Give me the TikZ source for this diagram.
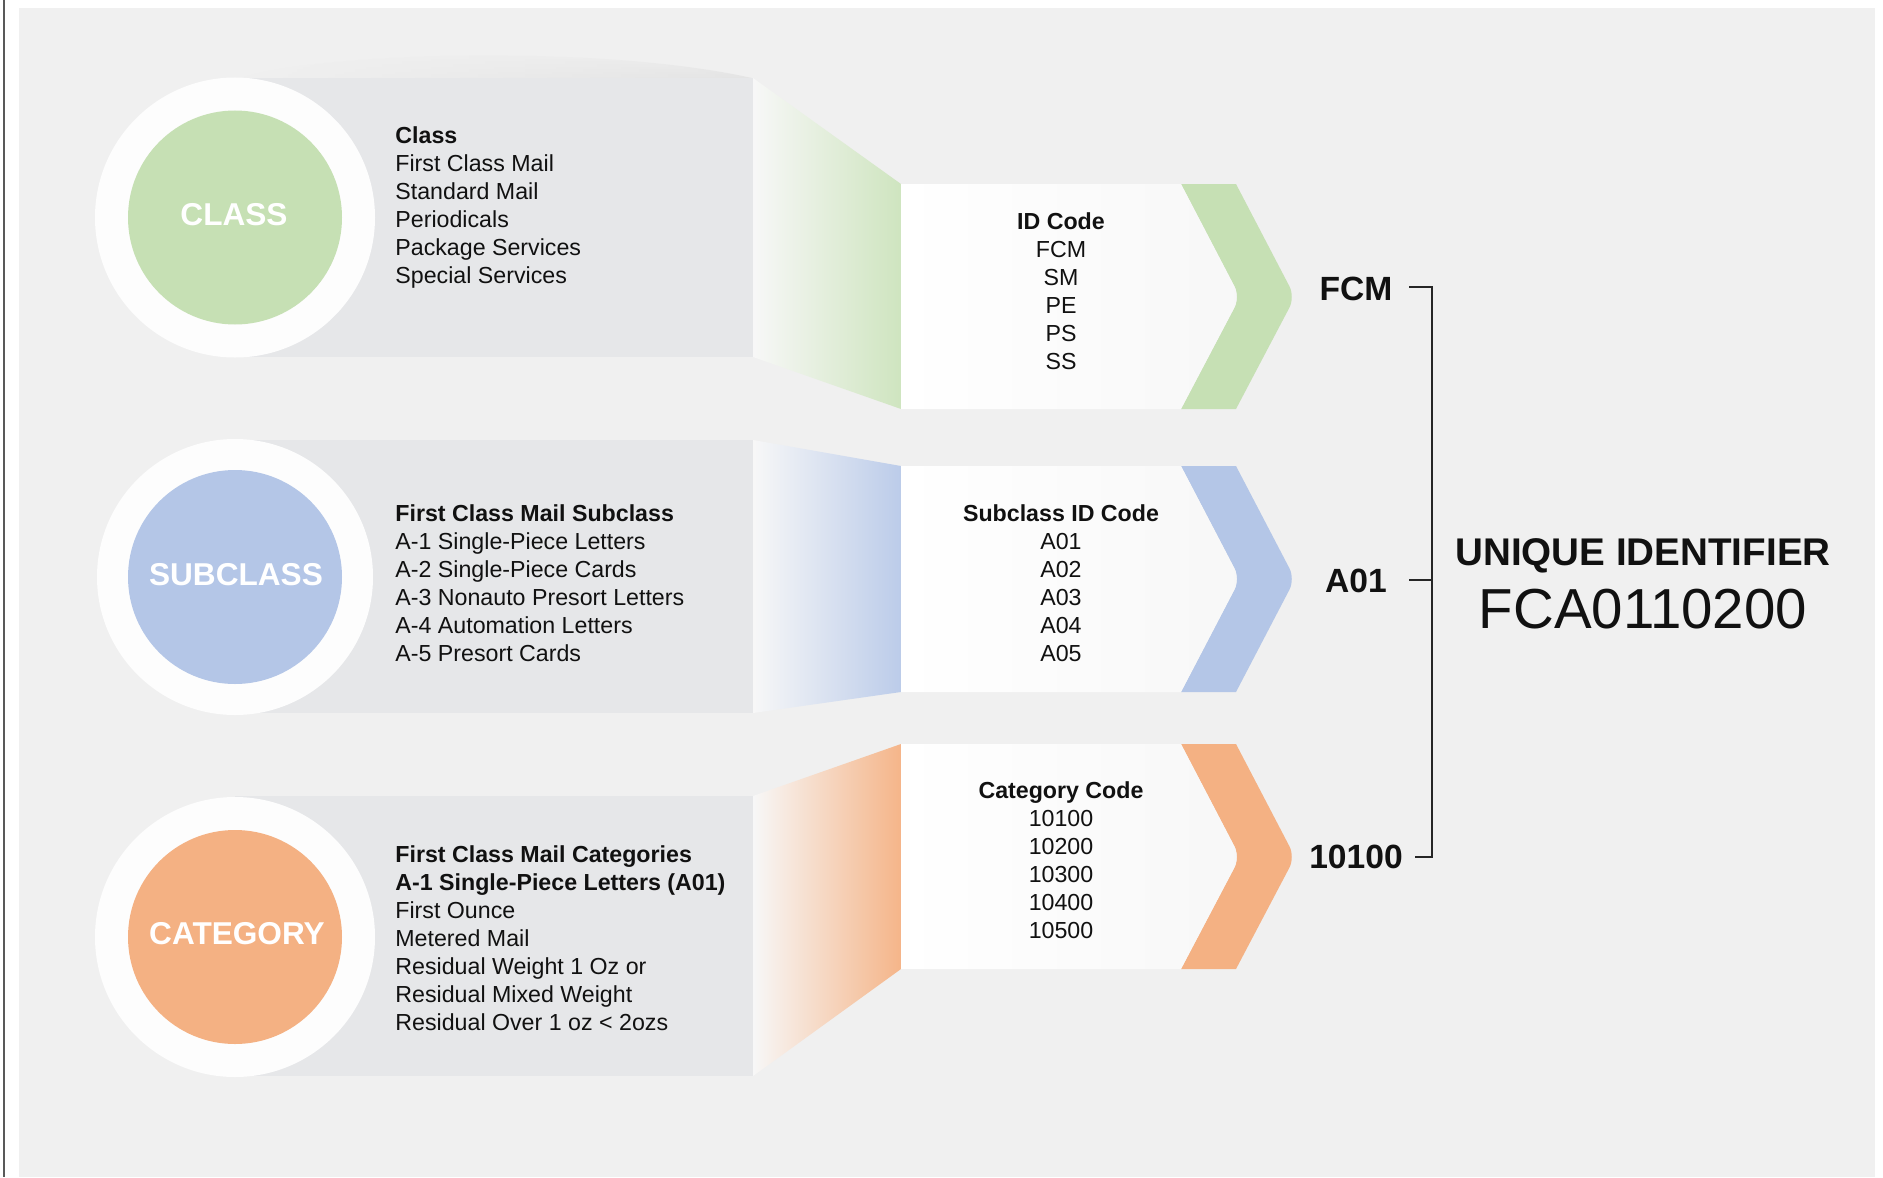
\documentclass[tikz,border=0pt]{standalone}
\usepackage{fontspec}
\setmainfont{Liberation Sans}
\usetikzlibrary{fadings}
\definecolor{bgc}{HTML}{F0F0F0}
\definecolor{panelc}{HTML}{E6E7E9}
\definecolor{greenc}{HTML}{C6E0B4}
\definecolor{bluec}{HTML}{B4C6E7}
\definecolor{orangec}{HTML}{F4B183}
\definecolor{txt}{HTML}{111111}
\definecolor{ringc}{HTML}{FDFDFD}
\tikzfading[name=shadowfade, left color=transparent!100, middle color=transparent!30, right color=transparent!10]
\begin{document}
\begin{tikzpicture}[x=0.5pt,y=-0.5pt,
  body/.style={font=\fontsize{11.6}{14.05}\selectfont, text=txt, inner sep=0pt},
  circlab/.style={font=\bfseries\fontsize{15.8}{19}\selectfont, text=white, inner sep=0pt},
  biglab/.style={font=\bfseries\fontsize{16.8}{20}\selectfont, text=txt, inner sep=0pt},
  bracket/.style={line width=1.15pt, draw=black!85},
  panel/.style={fill=panelc},
  ring/.style={fill=ringc},
  whitebox/.style={left color=white, right color=white!97!black}
]
\useasboundingbox (0,0) rectangle (1883,1177);
\fill[white] (0,0) rectangle (1883,1177);
\fill[bgc] (19,8) rectangle (1875,1177);
\draw[line width=0.8pt, black!65] (4,0) -- (4,1177);

% soft shadow above first panel
\shade[top color=bgc, bottom color=black!11, path fading=shadowfade]
  (240,78) .. controls (320,52) and (600,44) .. (752,78) -- cycle;

% ---------------- Row 1 : CLASS ----------------
\fill[panel] (235,78) rectangle (753,357);
\shade[left color=white!97!black, middle color=white!88!greenc, right color=greenc!85!white]
  (753,78) -- (901,184) -- (901,409) -- (753,357) -- cycle;
\fill[greenc] (1181,184) -- (1236,184) [rounded corners=6pt] -- (1295,297) [sharp corners] -- (1236,409) -- (1181,409) [rounded corners=6pt] -- (1240,297) [sharp corners] -- cycle;
\shade[whitebox] (901,184) -- (1181,184) [rounded corners=6pt] -- (1240,297) [sharp corners] -- (1181,409) -- (901,409) -- cycle;
\fill[ring] (235,217.5) circle[radius=140];
\fill[greenc] (235,217.5) circle[radius=107];
\node[circlab] (cClass) at (234,215) {CLASS};
\node[body, align=left, anchor=west] (tClass) at (395,207.5)
  {\textbf{Class}\\First Class Mail\\Standard Mail\\Periodicals\\Package Services\\Special Services};
\node[body, align=center] (kClass) at (1061,291)
  {\textbf{ID Code}\\FCM\\SM\\PE\\PS\\SS};

% ---------------- Row 2 : SUBCLASS ----------------
\fill[panel] (235,440) rectangle (753,713);
\shade[left color=white!97!black, middle color=white!88!bluec, right color=bluec!90!white]
  (753,440) -- (901,466) -- (901,692) -- (753,713) -- cycle;
\fill[bluec] (1181,466) -- (1236,466) [rounded corners=6pt] -- (1295,579) [sharp corners] -- (1236,692) -- (1181,692) [rounded corners=6pt] -- (1240,579) [sharp corners] -- cycle;
\shade[whitebox] (901,466) -- (1181,466) [rounded corners=6pt] -- (1240,579) [sharp corners] -- (1181,692) -- (901,692) -- cycle;
\fill[ring] (235,577) circle[radius=138];
\fill[bluec] (235,577) circle[radius=107];
\node[circlab] (cSub) at (236,575) {SUBCLASS};
\node[body, align=left, anchor=west] (tSub) at (395,583)
  {\textbf{First Class Mail Subclass}\\A-1 Single-Piece Letters\\A-2 Single-Piece Cards\\A-3 Nonauto Presort Letters\\A-4 Automation Letters\\A-5 Presort Cards};
\node[body, align=center] (kSub) at (1061,583)
  {\textbf{Subclass ID Code}\\A01\\A02\\A03\\A04\\A05};

% ---------------- Row 3 : CATEGORY ----------------
\fill[panel] (235,796) rectangle (753,1076);
\shade[left color=white!97!black, middle color=white!80!orangec, right color=orangec!95!white]
  (753,796) -- (901,744) -- (901,969) -- (753,1076) -- cycle;
\fill[orangec] (1181,744) -- (1236,744) [rounded corners=6pt] -- (1295,857) [sharp corners] -- (1236,969) -- (1181,969) [rounded corners=6pt] -- (1240,857) [sharp corners] -- cycle;
\shade[whitebox] (901,744) -- (1181,744) [rounded corners=6pt] -- (1240,857) [sharp corners] -- (1181,969) -- (901,969) -- cycle;
\fill[ring] (235,937) circle[radius=140];
\fill[orangec] (235,937) circle[radius=107];
\node[circlab] (cCat) at (237,934) {CATEGORY};
\node[body, align=left, anchor=west] (tCat) at (395,938)
  {\textbf{First Class Mail Categories}\\\textbf{A-1 Single-Piece Letters (A01)}\\First Ounce\\Metered Mail\\Residual Weight 1 Oz or\\Residual Mixed Weight\\Residual Over 1 oz < 2ozs};
\node[body, align=center] (kCat) at (1061,860)
  {\textbf{Category Code}\\10100\\10200\\10300\\10400\\10500};

% ---------------- Right side ----------------
\node[biglab] (lFCM) at (1356,289) {FCM};
\node[biglab] (lA01) at (1356,581) {A01};
\node[biglab] (l10100) at (1356,857) {10100};

\coordinate (bFCM) at (1409,287);
\coordinate (vFCM) at (1432,287);
\coordinate (bA01) at (1409,580);
\coordinate (vA01) at (1432,580);
\coordinate (b10100) at (1415,857);
\coordinate (v10100) at (1432,857);
\draw[bracket] (bFCM) -- (vFCM) -- (v10100) -- (b10100);
\draw[bracket] (bA01) -- (vA01);

\node[font=\bfseries\fontsize{19.3}{23}\selectfont, text=txt, inner sep=0pt] (uid) at (1643,556) {UNIQUE IDENTIFIER};
\node[font=\fontsize{28.2}{34}\selectfont, text=txt, inner sep=0pt] (code) at (1643,609) {FCA0110200};
\end{tikzpicture}
\end{document}
